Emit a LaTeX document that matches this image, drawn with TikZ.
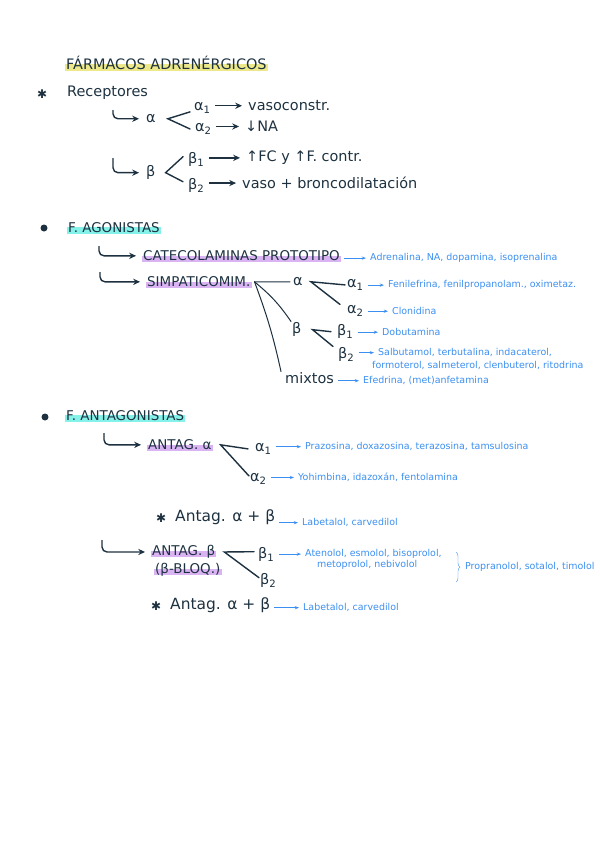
\documentclass[tikz,border=0pt]{standalone}
\usepackage{fontspec}
\setmainfont{DejaVu Sans}
\usetikzlibrary{arrows.meta}
\usetikzlibrary{backgrounds, decorations.pathreplacing}

\definecolor{ink}{HTML}{1D3140}
\definecolor{pen}{HTML}{3B8FF0}
\definecolor{hlyellow}{HTML}{EDE98A}
\definecolor{hlcyan}{HTML}{85F2EA}
\definecolor{hlpurple}{HTML}{DAB3F3}

\begin{document}
\begin{tikzpicture}[x=1bp, y=-1bp,
  txt/.style={anchor=mid west, inner sep=1pt, text=ink, font=\fontsize{14.5}{16}\selectfont},
  caps/.style={anchor=mid west, inner sep=1pt, text=ink, font=\fontsize{13.5}{16}\selectfont},
  big/.style={anchor=mid west, inner sep=1pt, text=ink, font=\fontsize{15.5}{17}\selectfont},
  note/.style={anchor=mid west, inner sep=1pt, text=pen, font=\fontsize{9.5}{11}\selectfont},
  starmark/.style={anchor=mid west, inner sep=1pt, text=ink, font=\fontsize{12}{12}\selectfont},
  dot/.style={circle, fill=ink, inner sep=0pt, minimum size=7bp},
  arr/.style={-{Stealth[length=2.4mm, width=2.2mm]}, line width=1.4bp, ink, shorten <=3pt, shorten >=5pt},
  barr/.style={-{Stealth[length=1.5mm]}, line width=0.8bp, pen, shorten <=3pt, shorten >=3pt},
  hook/.style={-{Stealth[length=2.4mm, width=2.2mm]}, line width=1.4bp, ink, rounded corners=5, shorten >=6pt},
  stroke/.style={line width=1.4bp, ink, line cap=round},
  fan/.style={line width=1bp, ink, line cap=round}]
\useasboundingbox (0,0) rectangle (600,848);

% receptores
\node[caps, font=\fontsize{14.5}{16}\selectfont] (title) at (65,67) {FÁRMACOS ADRENÉRGICOS};
\node[starmark] (star1) at (36,96) {✱};
\node[txt] (rec) at (66,94) {Receptores};
\node[txt] (ralpha) at (145,120) {α};
\node[txt] (ra1) at (193,108) {α\textsubscript{1}};
\node[txt] (ra1t) at (247,108) {vasoconstr.};
\node[txt] (ra2) at (194,129) {α\textsubscript{2}};
\node[txt] (ra2t) at (244,129) {↓NA};
\node[txt] (rbeta) at (145,174) {β};
\node[txt] (rb1) at (187,161) {β\textsubscript{1}};
\node[txt] (rb1t) at (245,159) {↑FC y ↑F. contr.};
\node[txt] (rb2) at (187,187) {β\textsubscript{2}};
\node[txt] (rb2t) at (241,186) {vaso + broncodilatación};

\coordinate (h1) at (113,110);
\coordinate (h2) at (113,158);
\draw[hook] (h1) |- (ralpha.west);
\draw[hook] (h2) |- (rbeta.west);
\coordinate (rav) at ([xshift=11pt]ralpha.east);
\coordinate (rbv) at ([xshift=9pt]rbeta.east);
\draw[stroke] ([xshift=-3pt,yshift=-4pt]ra1.west) -- (rav) -- ([xshift=-4pt]ra2.west);
\draw[stroke] ([xshift=-4pt,yshift=3pt]rb1.west) -- (rbv) -- ([xshift=-4pt,yshift=4pt]rb2.west);
\draw[arr] (ra1.east |- ra1t.west) -- (ra1t.west);
\draw[arr] (ra2.east |- ra2t.west) -- (ra2t.west);
\draw[arr] (rb1.east |- rb1t.west) -- (rb1t.west);
\draw[arr] (rb2.east |- rb2t.west) -- (rb2t.west);

% agonistas
\node[dot] (dot1) at (44,228) {};
\node[caps] (agon) at (67,230) {F. AGONISTAS};
\node[caps] (cat) at (142,258) {CATECOLAMINAS PROTOTIPO};
\node[note] (catt) at (369,258) {Adrenalina, NA, dopamina, isoprenalina};
\node[caps] (simp) at (146,284) {SIMPATICOMIM.};
\node[txt] (sa) at (292,283) {α};
\node[txt] (sa1) at (346,285) {α\textsubscript{1}};
\node[note] (sa1t) at (387,285) {Fenilefrina, fenilpropanolam., oximetaz.};
\node[txt] (sa2) at (346,311) {α\textsubscript{2}};
\node[note] (sa2t) at (391,312) {Clonidina};
\node[txt] (sb) at (291,331) {β};
\node[txt] (sb1) at (336,333) {β\textsubscript{1}};
\node[note] (sb1t) at (381,333) {Dobutamina};
\node[txt] (sb2) at (337,356) {β\textsubscript{2}};
\node[note] (sb2t) at (377,353) {Salbutamol, terbutalina, indacaterol,};
\node[note] (sb2u) at (371,366) {formoterol, salmeterol, clenbuterol, ritodrina};
\node[txt] (mix) at (284,381) {mixtos};
\node[note] (mixt) at (362,381) {Efedrina, (met)anfetamina};

\coordinate (h3) at (99,246);
\coordinate (h4) at (100,272);
\draw[hook] (h3) |- (cat.west);
\draw[hook] (h4) |- (simp.west);
\coordinate (fo) at ([xshift=3pt]simp.east);
\draw[fan] (fo) -- ([xshift=-2pt]sa.west);
\draw[fan] (fo) to[bend left=8] (sb.north west);
\draw[fan] (fo) to[bend left=4] ([xshift=-3pt]mix.north west);
\coordinate (sav) at ([xshift=7pt]sa.east);
\coordinate (sbv) at ([xshift=10pt]sb.east);
\draw[stroke] ([xshift=-1pt]sa1.west) -- (sav) -- ([xshift=-6pt]sa2.north west);
\draw[stroke] ([xshift=-5pt]sb1.west) -- (sbv) -- ([xshift=-4pt]sb2.north west);
\draw[barr] (cat.east |- catt.west) -- (catt.west);
\draw[barr] (sa1.east |- sa1t.west) -- (sa1t.west);
\draw[barr] (sa2.east |- sa2t.west) -- (sa2t.west);
\draw[barr] (sb1.east |- sb1t.west) -- (sb1t.west);
\draw[barr] (sb2.east |- sb2t.west) -- (sb2t.west);
\draw[barr] (mix.east |- mixt.west) -- (mixt.west);

% antagonistas
\node[dot] (dot2) at (45,417) {};
\node[caps] (antag) at (65,418) {F. ANTAGONISTAS};
\node[caps] (aa) at (147,447) {ANTAG. α};
\node[txt] (aa1) at (254,449) {α\textsubscript{1}};
\node[note] (aa1t) at (304,447) {Prazosina, doxazosina, terazosina, tamsulosina};
\node[txt] (aa2) at (249,479) {α\textsubscript{2}};
\node[note] (aa2t) at (297,478) {Yohimbina, idazoxán, fentolamina};
\node[starmark] (star2) at (155,520) {✱};
\node[big] (ab1) at (174,519) {Antag. α + β};
\node[note] (ab1t) at (301,523) {Labetalol, carvedilol};
\node[caps] (bb) at (151,553) {ANTAG. β};
\node[caps] (bbq) at (154,571) {(β-BLOQ.)};
\node[txt] (bb1) at (257,556) {β\textsubscript{1}};
\node[note] (bb1t) at (304,554) {Atenolol, esmolol, bisoprolol,};
\node[note] (bb1u) at (316,565) {metoprolol, nebivolol};
\node[txt] (bb2) at (259,582) {β\textsubscript{2}};
\node[note] (prop) at (464,567) {Propranolol, sotalol, timolol};
\node[starmark] (star3) at (150,608) {✱};
\node[big] (ab2) at (169,607) {Antag. α + β};
\node[note] (ab2t) at (302,608) {Labetalol, carvedilol};

\coordinate (h5) at (104,433);
\coordinate (h6) at (102,540);
\draw[hook] (h5) |- (aa.west);
\draw[hook] (h6) |- (bb.west);
\coordinate (aav) at ([xshift=8pt]aa.east);
\coordinate (bbv) at ([xshift=8pt]bb.east);
\draw[stroke] ([xshift=-6pt]aa1.west) -- (aav) -- ([yshift=3pt]aa2.west);
\draw[stroke] ([xshift=-3pt,yshift=3pt]bb1.west) -- (bbv) -- ([yshift=3pt]bb2.west);
\draw[barr] (aa1.east |- aa1t.west) -- (aa1t.west);
\draw[barr] (aa2.east |- aa2t.west) -- (aa2t.west);
\draw[barr] (ab1.east |- ab1t.west) -- (ab1t.west);
\draw[barr] (bb1.east |- bb1t.west) -- (bb1t.west);
\draw[barr] (ab2.east |- ab2t.west) -- (ab2t.west);
\draw[pen, decorate, decoration={brace, amplitude=4pt}]
  ([xshift=-8pt,yshift=15pt]prop.west) -- ([xshift=-8pt,yshift=-15pt]prop.west);

% highlights
\begin{scope}[on background layer]
\fill[hlyellow] ([yshift=-1.5pt]title.base west) rectangle ([yshift=3pt]title.mid east);
\fill[hlcyan] ([yshift=-1.5pt]agon.base west) rectangle ([yshift=3pt]agon.mid east);
\fill[hlcyan] ([yshift=-1.5pt]antag.base west) rectangle ([yshift=3pt]antag.mid east);
\fill[hlpurple] ([yshift=-1.5pt]cat.base west) rectangle ([yshift=2pt]cat.mid east);
\fill[hlpurple] ([yshift=-1.5pt]simp.base west) rectangle ([yshift=2pt]simp.mid east);
\fill[hlpurple] ([yshift=-1.5pt]aa.base west) rectangle ([yshift=2pt]aa.mid east);
\fill[hlpurple] ([yshift=-1.5pt]bb.base west) rectangle ([yshift=2pt]bb.mid east);
\fill[hlpurple] ([yshift=-1.5pt]bbq.base west) rectangle ([yshift=2pt]bbq.mid east);
\end{scope}
\end{tikzpicture}
\end{document}
